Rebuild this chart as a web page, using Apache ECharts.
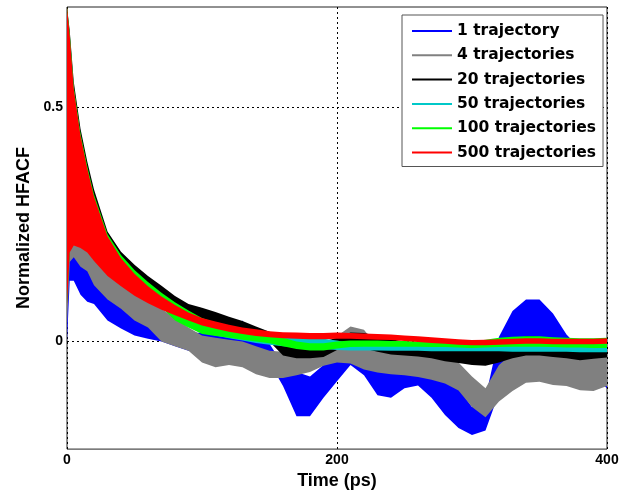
<!DOCTYPE html>
<html>
<head>
<meta charset="utf-8">
<script src="https://cdn.jsdelivr.net/npm/echarts@6.0.0/dist/echarts.min.js"></script>
<style>
  html, body { margin: 0; padding: 0; background: #fff; }
  #chart { width: 629px; height: 495px; }
</style>
</head>
<body>
<div id="chart"></div>
<script type="text/javascript">
  // time samples (ps) at which the envelope of each noisy curve was read
  var times = [0, 2, 5, 10, 15, 20, 30, 40, 50, 60, 70, 80, 90, 100, 110, 120, 130, 140, 150, 160,
    170, 180, 190, 200, 210, 220, 230, 240, 250, 260, 270, 280, 290, 300, 310, 320, 330, 340, 350, 360,
    370, 380, 390, 400];

  // lower / upper edge of each band (normalized HFACF)
  var blueLow = [0.0, 0.13, 0.13, 0.1, 0.085, 0.08, 0.045, 0.028, 0.013, 0.006, 0.0, -0.01, -0.02, -0.02,
    -0.022, -0.02, -0.018, -0.03, -0.045, -0.095, -0.16, -0.16, -0.12, -0.085, -0.05, -0.072, -0.115, -0.12,
    -0.1, -0.094, -0.12, -0.157, -0.185, -0.2, -0.19, -0.11, -0.035, -0.03, -0.03, -0.035, -0.045, -0.06,
    -0.075, -0.1];
  var blueHigh = [0.6, 0.4, 0.3, 0.2, 0.16, 0.14, 0.1, 0.075, 0.055, 0.04, 0.03, 0.025, 0.02, 0.018,
    0.02, 0.015, 0.045, 0.0, -0.005, -0.05, -0.065, -0.075, -0.05, -0.02, -0.015, -0.03, -0.05, -0.057,
    -0.05, -0.043, -0.057, -0.079, -0.1, -0.14, -0.12, 0.01, 0.065, 0.09, 0.09, 0.06, 0.015, -0.015,
    -0.015, -0.025];

  var grayLow = [0.033, 0.17, 0.18, 0.16, 0.15, 0.12, 0.09, 0.07, 0.045, 0.03, 0.0, -0.01, -0.02, -0.045,
    -0.055, -0.05, -0.055, -0.07, -0.078, -0.078, -0.072, -0.065, -0.052, -0.045, -0.047, -0.06, -0.066,
    -0.07, -0.072, -0.076, -0.082, -0.09, -0.105, -0.14, -0.162, -0.128, -0.106, -0.088, -0.086, -0.093,
    -0.095, -0.104, -0.106, -0.095];
  var grayHigh = [0.7, 0.62, 0.5, 0.4, 0.33, 0.28, 0.2, 0.15, 0.12, 0.09, 0.07, 0.05, 0.03, 0.013,
    0.008, 0.004, 0.0, -0.01, -0.02, -0.022, -0.028, -0.022, -0.01, 0.012, 0.032, 0.025, -0.012, -0.02,
    -0.02, -0.02, -0.024, -0.03, -0.045, -0.075, -0.1, -0.05, -0.025, -0.02, -0.02, -0.022, -0.025,
    -0.02, -0.018, -0.02];

  var blackLow = [0.08, 0.195, 0.21, 0.205, 0.195, 0.177, 0.145, 0.123, 0.103, 0.087, 0.073, 0.05, 0.04,
    0.03, 0.025, 0.02, 0.016, 0.012, 0.0, -0.03, -0.036, -0.036, -0.033, -0.018, -0.013, -0.015, -0.022,
    -0.028, -0.03, -0.032, -0.036, -0.042, -0.046, -0.05, -0.052, -0.045, -0.036, -0.03, -0.03, -0.033,
    -0.036, -0.04, -0.037, -0.034];
  var blackHigh = [0.715, 0.665, 0.555, 0.455, 0.385, 0.325, 0.235, 0.192, 0.164, 0.14, 0.119, 0.097,
    0.08, 0.072, 0.063, 0.053, 0.044, 0.032, 0.021, 0.012, 0.005, 0.0, 0.0, 0.008, 0.019, 0.018, 0.012,
    0.005, 0.0, -0.004, -0.008, -0.012, -0.016, -0.018, -0.016, -0.008, 0.002, 0.011, 0.01, 0.004, 0.0,
    -0.004, -0.004, -0.002];

  var cyanLow = [0.08, 0.195, 0.21, 0.205, 0.195, 0.177, 0.145, 0.123, 0.103, 0.087, 0.073, 0.048, 0.034,
    0.02, 0.013, 0.007, 0.002, -0.003, -0.007, -0.01, -0.012, -0.014, -0.016, -0.018, -0.019, -0.019,
    -0.019, -0.02, -0.02, -0.02, -0.021, -0.021, -0.021, -0.021, -0.021, -0.021, -0.022, -0.022, -0.022,
    -0.022, -0.022, -0.023, -0.023, -0.023];
  var cyanHigh = [0.7, 0.655, 0.54, 0.44, 0.37, 0.31, 0.225, 0.18, 0.15, 0.124, 0.1, 0.08, 0.063, 0.049,
    0.039, 0.031, 0.025, 0.019, 0.015, 0.011, 0.009, 0.007, 0.006, 0.002, -0.004, -0.005, -0.005, -0.006,
    -0.006, -0.006, -0.007, -0.007, -0.007, -0.008, -0.008, -0.008, -0.008, -0.008, -0.008, -0.008,
    -0.008, -0.008, -0.008, -0.008];

  var greenLow = [0.08, 0.195, 0.21, 0.205, 0.195, 0.177, 0.145, 0.123, 0.103, 0.087, 0.073, 0.045, 0.03,
    0.016, 0.012, 0.008, 0.004, 0.0, -0.004, -0.01, -0.016, -0.019, -0.019, -0.015, -0.012, -0.011,
    -0.011, -0.011, -0.011, -0.011, -0.012, -0.012, -0.013, -0.014, -0.013, -0.012, -0.011, -0.011,
    -0.011, -0.012, -0.013, -0.013, -0.014, -0.014];
  var greenHigh = [0.715, 0.66, 0.545, 0.445, 0.375, 0.315, 0.23, 0.185, 0.153, 0.127, 0.104, 0.084,
    0.066, 0.05, 0.04, 0.032, 0.026, 0.02, 0.016, 0.008, 0.0, -0.004, -0.004, 0.0, 0.002, 0.002, 0.002,
    0.001, 0.001, 0.0, 0.0, -0.001, -0.001, 0.0, 0.004, 0.008, 0.01, 0.011, 0.011, 0.009, 0.008, 0.007,
    0.007, 0.008];

  var redLow = [0.075, 0.19, 0.205, 0.2, 0.19, 0.172, 0.14, 0.118, 0.098, 0.082, 0.068, 0.056, 0.045,
    0.034, 0.027, 0.021, 0.016, 0.012, 0.009, 0.007, 0.006, 0.005, 0.005, 0.006, 0.006, 0.005, 0.004,
    0.003, 0.001, -0.001, -0.003, -0.005, -0.007, -0.008, -0.008, -0.007, -0.006, -0.005, -0.005, -0.006,
    -0.006, -0.006, -0.006, -0.005];
  var redHigh = [0.715, 0.655, 0.54, 0.44, 0.37, 0.31, 0.225, 0.178, 0.145, 0.118, 0.096, 0.078, 0.062,
    0.05, 0.043, 0.036, 0.03, 0.026, 0.022, 0.02, 0.019, 0.018, 0.018, 0.019, 0.018, 0.017, 0.016, 0.015,
    0.013, 0.011, 0.009, 0.007, 0.005, 0.003, 0.004, 0.005, 0.006, 0.007, 0.007, 0.006, 0.006, 0.006,
    0.006, 0.007];

  var xTicks = [0, 200, 400];
  var yTicks = [0, 0.5];

  var chart = echarts.init(document.getElementById('chart'));

  // one filled band per curve, polygon through the upper edge and back along the lower edge
  function band(name, color, low, high) {
    return {
      name: name,
      type: 'custom',
      clip: true,
      itemStyle: { color: color },
      data: [[times[0], low[0]]],
      renderItem: function (params, api) {
        var pts = [];
        for (var i = 0; i < times.length; i++) pts.push(api.coord([times[i], high[i]]));
        for (var j = times.length - 1; j >= 0; j--) pts.push(api.coord([times[j], low[j]]));
        return {
          type: 'polygon',
          shape: { points: pts },
          style: { fill: color, lineWidth: 0 }
        };
      }
    };
  }

  var tickFont = { fontFamily: 'Liberation Sans', fontWeight: 'bold', fontSize: 14, color: '#000' };

  var option = {
    animation: false,
    backgroundColor: '#fff',
    grid: {
      left: 67, right: 22, top: 7, bottom: 44,
      show: true, borderColor: '#222', borderWidth: 1
    },
    legend: {
      orient: 'vertical',
      left: 402, top: 15,
      padding: [6, 7, 4, 10],
      backgroundColor: '#fff',
      borderColor: '#555', borderWidth: 1,
      icon: 'rect',
      itemWidth: 40, itemHeight: 2,
      itemGap: 4.3,
      textStyle: { fontFamily: 'DejaVu Sans', fontWeight: 'bold', fontSize: 15.5, lineHeight: 20, color: '#000' },
      data: ['1 trajectory', '4 trajectories', '20 trajectories', '50 trajectories', '100 trajectories', '500 trajectories']
    },
    xAxis: {
      type: 'value',
      min: 0, max: 400, interval: 200,
      name: 'Time (ps)',
      nameLocation: 'middle',
      nameGap: 18,
      nameTextStyle: { fontFamily: 'Liberation Sans', fontWeight: 'bold', fontSize: 18, color: '#000' },
      axisLine: { show: false },
      axisTick: { show: false },
      axisLabel: Object.assign({ margin: 4, customValues: xTicks }, tickFont),
      splitLine: { show: true, lineStyle: { color: '#000', type: [2, 3], width: 1 } }
    },
    yAxis: {
      type: 'value',
      min: -0.23, max: 0.715,
      name: 'Normalized HFACF',
      nameLocation: 'middle',
      nameGap: 31,
      nameTextStyle: { fontFamily: 'Liberation Sans', fontWeight: 'bold', fontSize: 18, color: '#000' },
      axisLine: { show: false },
      axisTick: { show: false, customValues: yTicks },
      axisLabel: Object.assign({ margin: 4, customValues: yTicks }, tickFont),
      splitLine: { show: true, lineStyle: { color: '#000', type: [2, 3], width: 1 } }
    },
    series: [
      band('1 trajectory', '#0000ff', blueLow, blueHigh),
      band('4 trajectories', '#808080', grayLow, grayHigh),
      band('20 trajectories', '#000000', blackLow, blackHigh),
      band('50 trajectories', '#00c8c8', cyanLow, cyanHigh),
      band('100 trajectories', '#00ff00', greenLow, greenHigh),
      band('500 trajectories', '#ff0000', redLow, redHigh)
    ]
  };

  chart.setOption(option);
</script>
</body>
</html>
